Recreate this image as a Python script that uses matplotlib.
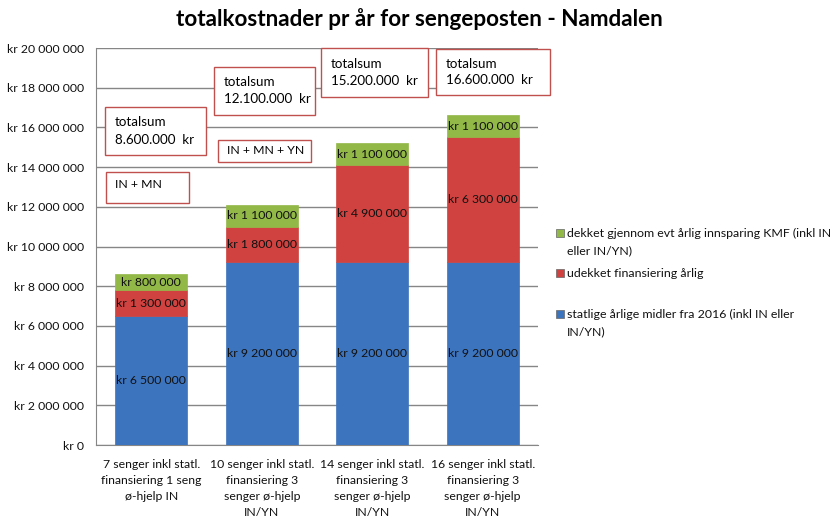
import matplotlib
matplotlib.use("Agg")
import matplotlib.pyplot as plt
from matplotlib.patches import Rectangle
from matplotlib.ticker import FuncFormatter
import numpy as np

plt.rcParams['font.family'] = ['Lato', 'DejaVu Sans']

categories = [
    "7 senger inkl statl.\nfinansiering 1 seng\nø-hjelp IN",
    "10 senger inkl statl.\nfinansiering 3\nsenger ø-hjelp\nIN/YN",
    "14 senger inkl statl.\nfinansiering 3\nsenger ø-hjelp\nIN/YN",
    "16 senger inkl statl.\nfinansiering 3\nsenger ø-hjelp\nIN/YN",
]
statlige = [6500000, 9200000, 9200000, 9200000]
udekket = [1300000, 1800000, 4900000, 6300000]
dekket = [800000, 1100000, 1100000, 1100000]

series_labels = [
    "statlige årlige midler fra 2016 (inkl IN eller\nIN/YN)",
    "udekket finansiering årlig",
    "dekket gjennom evt årlig innsparing KMF (inkl IN\neller IN/YN)",
]
colors = ["#3D74BE", "#CF423F", "#92B848"]

totals_text = ["totalsum\n8.600.000  kr", "totalsum\n12.100.000  kr",
               "totalsum\n15.200.000  kr", "totalsum\n16.600.000  kr"]
extra_text = ["IN + MN", "IN + MN + YN"]

title = "totalkostnader pr år for sengeposten - Namdalen"

W, H = 839, 527
fig = plt.figure(figsize=(W / 100, H / 100), dpi=100)
ax = fig.add_axes([96 / W, 1 - 445 / H, (538 - 96) / W, (445 - 48) / H])

fs = 8.8
x = np.arange(len(categories))
width = 0.65
series = [statlige, udekket, dekket]
bottom = np.zeros(len(categories))
for vals, col in zip(series, colors):
    vals = np.array(vals)
    ax.bar(x, vals, width, bottom=bottom, color=col, edgecolor=col, linewidth=0.5, zorder=3)
    for xi, b, v in zip(x, bottom, vals):
        lab = "kr " + f"{v:,}".replace(",", " ")
        ax.text(xi, b + v / 2, lab, ha='center', va='center', fontsize=fs, color='#111111', zorder=4)
    bottom = bottom + vals

ax.set_xlim(-0.5, len(categories) - 0.5)
ax.set_ylim(0, 20000000)
ax.set_yticks(np.arange(0, 20000001, 2000000))
ax.yaxis.set_major_formatter(FuncFormatter(lambda v, p: "kr " + (f"{int(v):,}".replace(",", " "))))
ax.grid(axis='y', color='#868686', linewidth=1, zorder=0)
ax.set_axisbelow(True)
ax.set_xticks(x)
ax.set_xticklabels(categories, fontsize=fs, linespacing=1.55)
ax.tick_params(axis='both', length=0, labelsize=fs, colors='#111111')
ax.tick_params(axis='y', pad=8.5)
ax.tick_params(axis='x', pad=10)
for s in ['top', 'right']:
    ax.spines[s].set_visible(False)
for s in ['left', 'bottom']:
    ax.spines[s].set_color('#868686')

fig.text(419 / W, 1 - 19 / H, title, ha='center', va='center', fontsize=16.2, fontweight='bold')

# annotation boxes (pixel coords: x0, y0, x1, y1)
boxes = [(105, 107, 206, 155), (214, 67, 315, 115), (321, 48, 428, 97), (436, 49, 550, 95)]
for (x0, y0, x1, y1), t in zip(boxes, totals_text):
    fig.patches.append(Rectangle((x0 / W, 1 - y1 / H), (x1 - x0) / W, (y1 - y0) / H,
                                 transform=fig.transFigure, fill=True, facecolor='white',
                                 edgecolor='#C0504D', linewidth=1, zorder=5))
    fig.text((x0 + 10) / W, 1 - ((y0 + y1) / 2) / H, t, ha='left', va='center',
             fontsize=9.6, linespacing=1.5, zorder=6)
boxes2 = [(106, 172, 189, 203), (218, 140, 311, 162)]
for (x0, y0, x1, y1), t in zip(boxes2, extra_text):
    fig.patches.append(Rectangle((x0 / W, 1 - y1 / H), (x1 - x0) / W, (y1 - y0) / H,
                                 transform=fig.transFigure, fill=True, facecolor='white',
                                 edgecolor='#C0504D', linewidth=1, zorder=5))
    fig.text((x0 + 9) / W, 1 - ((y0 + y1) / 2 - 3 if t == "IN + MN" else (y0 + y1) / 2) / H, t,
             ha='left', va='center', fontsize=8.8, zorder=6)

# legend (manual), top to bottom: green, red, blue
leg_y = [233, 273, 314]
for yy, lab, col in zip(leg_y, series_labels[::-1], colors[::-1]):
    fig.patches.append(Rectangle((556 / W, 1 - (yy + 4) / H), 8 / W, 8 / H,
                                 transform=fig.transFigure, facecolor=col, edgecolor='#666666',
                                 linewidth=0.5))
    fig.text(567 / W, 1 - (yy - 5) / H, lab, ha='left', va='top', fontsize=8.9,
             linespacing=1.7, color='#111111')

fig.savefig("out.png", dpi=100, facecolor='white')
